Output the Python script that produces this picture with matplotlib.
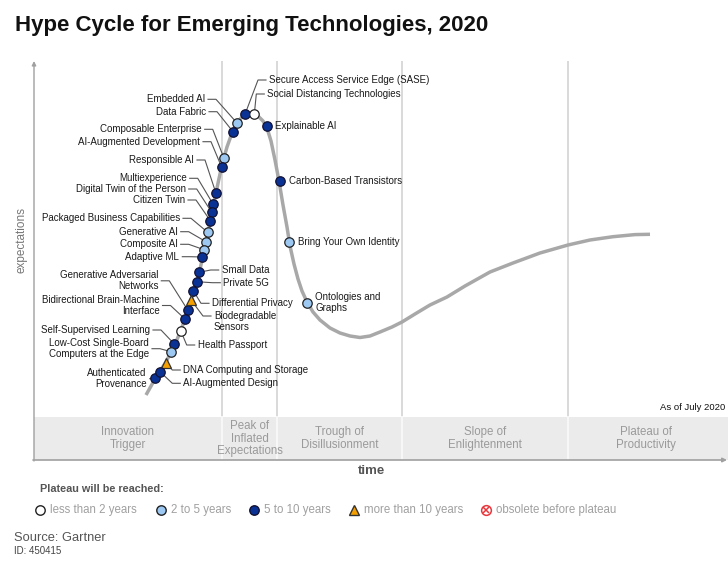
import matplotlib
matplotlib.use("Agg")
import matplotlib.pyplot as plt
from matplotlib.patches import Rectangle

plt.rcParams['font.family'] = ['Liberation Sans', 'DejaVu Sans']

# ---------------- data (in chart pixel units) -------------
title = "Hype Cycle for Emerging Technologies, 2020"

curve_x = [146, 155, 160, 166, 171, 176, 181, 185, 188, 191, 194, 197, 199.5, 202, 205,
           208, 211, 214, 217, 220, 223, 227, 232, 237, 241, 245, 250, 255, 259, 263,
           267, 271, 275, 279, 283, 287, 290, 294, 298, 302, 307, 313, 320, 330, 340, 350,
           360, 370, 380, 392, 402, 415, 430, 447, 465, 490, 513, 540, 568, 590, 613,
           635, 650]
curve_y = [395, 379, 371, 362, 352, 342, 330, 319, 310, 300, 291, 281.5, 272, 260, 247,
           233, 218, 203, 188, 174, 161, 147, 133, 123, 118, 115, 113, 114, 117, 121,
           128, 141, 160, 181, 205, 227, 246, 264, 279, 291, 302, 312, 320, 328, 333, 336,
           337.5, 336, 332, 327, 322, 314, 305, 297, 286, 272, 263, 253, 245, 240, 236.7,
           234.6, 234.3]

tech_names = [
    "Embedded AI", "Data Fabric", "Composable Enterprise", "AI-Augmented Development",
    "Responsible AI", "Multiexperience", "Digital Twin of the Person", "Citizen Twin",
    "Packaged Business Capabilities", "Generative AI", "Composite AI", "Adaptive ML",
    "Generative Adversarial\nNetworks", "Bidirectional Brain-Machine\nInterface",
    "Self-Supervised Learning", "Low-Cost Single-Board\nComputers at the Edge",
    "Authenticated\nProvenance",
    "Secure Access Service Edge (SASE)", "Social Distancing Technologies",
    "Explainable AI", "Carbon-Based Transistors", "Bring Your Own Identity",
    "Ontologies and\nGraphs", "Small Data", "Private 5G", "Differential Privacy",
    "Biodegradable\nSensors", "Health Passport", "DNA Computing and Storage",
    "AI-Augmented Design",
]
tech_x = [237, 233, 224, 221.7, 216, 213, 211.7, 210.3, 207.7, 206, 204, 201.7,
          187.7, 185, 174.3, 171, 155,
          245, 254.3, 266.5, 280, 289, 306.7, 199, 196.7, 193.3, 191, 180.7, 166, 160]
tech_y = [123, 131.7, 158.3, 167.3, 193.3, 204, 212.3, 220.7, 232.3, 241.7, 249.7, 257,
          310, 319, 344, 351.7, 378.3,
          114.3, 114.3, 126, 180.7, 241.7, 302.7, 272.3, 281.7, 290.7, 300, 330.7,
          362.5, 371.7]
tech_cat = ["2-5", "5-10", "2-5", "5-10", "5-10", "5-10", "5-10", "5-10", "2-5", "2-5",
            "2-5", "5-10", "5-10", "5-10", "5-10", "2-5", "5-10",
            "5-10", "<2", "5-10", "5-10", "2-5", "2-5", "5-10", "5-10", "5-10", ">10",
            "<2", ">10", "5-10"]

phase_names = ["Innovation\nTrigger", "Peak of\nInflated\nExpectations",
               "Trough of\nDisillusionment", "Slope of\nEnlightenment",
               "Plateau of\nProductivity"]
phase_bounds = [34, 222, 277, 402, 568, 728]

legend_cats = ["<2", "2-5", "5-10", ">10", "obsolete"]
legend_labels = ["less than 2 years", "2 to 5 years", "5 to 10 years",
                 "more than 10 years", "obsolete before plateau"]

# ---------------- layout (label anchor per technology) ----------------------------
# side, label x, label y (block centre), draw leader, leader y offset
label_layout = [
    ("L", 205, 99.3, True, 0), ("L", 206, 111.7, True, 0), ("L", 201.7, 129.3, True, 0),
    ("L", 200, 141.7, True, 0), ("L", 194, 160, True, 0), ("L", 186.7, 178.3, True, 0),
    ("L", 185.7, 189, True, 0), ("L", 185, 200, True, 0), ("L", 180, 218.3, True, 0),
    ("L", 177.7, 231.7, True, 0), ("L", 177.7, 244.3, True, 0), ("L", 179.3, 256.7, True, 0),
    ("L", 158.3, 280.8, True, 0), ("L", 159.5, 305.5, True, 0), ("L", 150, 330, True, 0),
    ("L", 149, 348.7, True, 0), ("L", 146.7, 378.7, True, 0),
    ("R", 269, 80, True, 0), ("R", 267.3, 94, True, 0), ("R", 275, 126, False, 0),
    ("R", 289, 180.7, False, 0), ("R", 298.3, 241.7, False, 0), ("R", 315, 302.8, False, 0),
    ("R", 221.7, 270, True, 0), ("R", 223.3, 282.7, True, 0), ("R", 212, 303.3, True, 0),
    ("R", 214, 321.7, True, -5.7), ("R", 197.7, 345, True, 0), ("R", 183.3, 370, True, 0),
    ("R", 183.3, 383.3, True, 0),
]

styles = {
    "<2": dict(marker="o", ms=6.8, mfc="white", mec="#222222"),
    "2-5": dict(marker="o", ms=6.8, mfc="#9cc8f2", mec="#222222"),
    "5-10": dict(marker="o", ms=6.8, mfc="#0a3294", mec="#111133"),
    ">10": dict(marker="^", ms=7.7, mfc="#f5a000", mec="#333333"),
}

LABEL_FS = 7.0

# ---------------- drawing -----------------------------------------------------------
fig = plt.figure(figsize=(7.28, 5.62), dpi=100)
ax = fig.add_axes([0, 0, 1, 1])
ax.set_xlim(0, 728)
ax.set_ylim(562, 0)
ax.axis("off")

band_top, band_bot = 417, 460
ax.add_patch(Rectangle((34, band_top), 694, band_bot - band_top,
                       facecolor="#ebebeb", edgecolor="none", zorder=0))
for xb in phase_bounds[1:-1]:
    ax.plot([xb, xb], [62, band_top], color="#d9d9d9", lw=1.4, zorder=0.5)
    ax.plot([xb, xb], [band_top, band_bot], color="#f8f8f8", lw=1.4, zorder=0.5)

# axes lines with arrows
ax.annotate("", xy=(34, 61), xytext=(34, band_bot + 1),
            arrowprops=dict(arrowstyle="-|>", color="#a0a0a0", lw=1.0,
                            mutation_scale=6, shrinkA=0, shrinkB=0))
ax.annotate("", xy=(727, band_bot), xytext=(33, band_bot),
            arrowprops=dict(arrowstyle="-|>", color="#a0a0a0", lw=1.2,
                            mutation_scale=6, shrinkA=0, shrinkB=0))

# phase names
for i, name in enumerate(phase_names):
    cx = (phase_bounds[i] + phase_bounds[i + 1]) / 2
    if i == 4:
        cx = 646
    ax.text(cx, 438.5, name, ha="center", va="center", fontsize=8.3,
            color="#9a9a9a", linespacing=1.08,
            family=["Liberation Sans Narrow", "Liberation Sans"])

# hype curve
ax.plot(curve_x, curve_y, color="#a8a8a8", lw=2.5, solid_capstyle="butt",
        solid_joinstyle="round", zorder=2)

# leaders and labels
for name, x, y, cat, lay in zip(tech_names, tech_x, tech_y, tech_cat, label_layout):
    side, lx, ly, leader, dy = lay
    if side == "L":
        ax.text(lx, ly, name, ha="right", va="center", fontsize=LABEL_FS,
                color="#1a1a1a", multialignment="right", linespacing=1.15, zorder=4)
        if leader:
            x0 = lx + 3
            x1 = min(x0 + 8, x - 2)
            ax.plot([x0, x1, x], [ly + dy, ly + dy, y], color="#555555", lw=0.8, zorder=1.5)
    else:
        ax.text(lx, ly, name, ha="left", va="center", fontsize=LABEL_FS,
                color="#1a1a1a", multialignment="left", linespacing=1.15, zorder=4)
        if leader:
            x0 = lx - 3
            x1 = max(x0 - 8, x + 2)
            ax.plot([x0, x1, x], [ly + dy, ly + dy, y], color="#555555", lw=0.8, zorder=1.5)
    st = styles[cat]
    ax.plot([x], [y], linestyle="none", marker=st["marker"], ms=st["ms"],
            mfc=st["mfc"], mec=st["mec"], mew=0.9, zorder=3)

# texts
ax.text(15, 25, title, ha="left", va="center", fontsize=16, fontweight="bold",
        color="#111111")
ax.text(22, 240, "expectations", rotation=90, ha="center", va="center",
        fontsize=8.5, color="#777777")
ax.text(372, 471, "time", ha="center", va="center", fontsize=9.5, color="#555555",
        fontweight="bold")
ax.text(725, 407, "As of July 2020", ha="right", va="center", fontsize=6.8,
        color="#111111")

# legend
ax.text(40, 489, "Plateau will be reached:", ha="left", va="center", fontsize=7.8,
        fontweight="bold", color="#555555")
leg_x = [39.5, 160.5, 253.5, 353.5, 485.5]
for cat, lab, lxp in zip(legend_cats, legend_labels, leg_x):
    if cat == "obsolete":
        ax.plot([lxp], [510], linestyle="none", marker="o", ms=7, mfc="white",
                mec="#e8383d", mew=1.1, zorder=3)
        ax.plot([lxp], [510], linestyle="none", marker="x", ms=3.8,
                mec="#e8383d", mew=1.1, zorder=3)
    else:
        st = styles[cat]
        ax.plot([lxp], [510], linestyle="none", marker=st["marker"], ms=st["ms"],
                mfc=st["mfc"], mec=st["mec"], mew=1.0, zorder=3)
    ax.text(lxp + 10.5, 510, lab, ha="left", va="center", fontsize=8.3,
            color="#a0a0a0")

ax.text(14, 538, "Source: Gartner", ha="left", va="center", fontsize=9.3,
        color="#555555")
ax.text(14, 551, "ID: 450415", ha="left", va="center", fontsize=7,
        color="#444444", family=["Liberation Sans Narrow", "Liberation Sans"])

fig.savefig("out.png", dpi=100)
